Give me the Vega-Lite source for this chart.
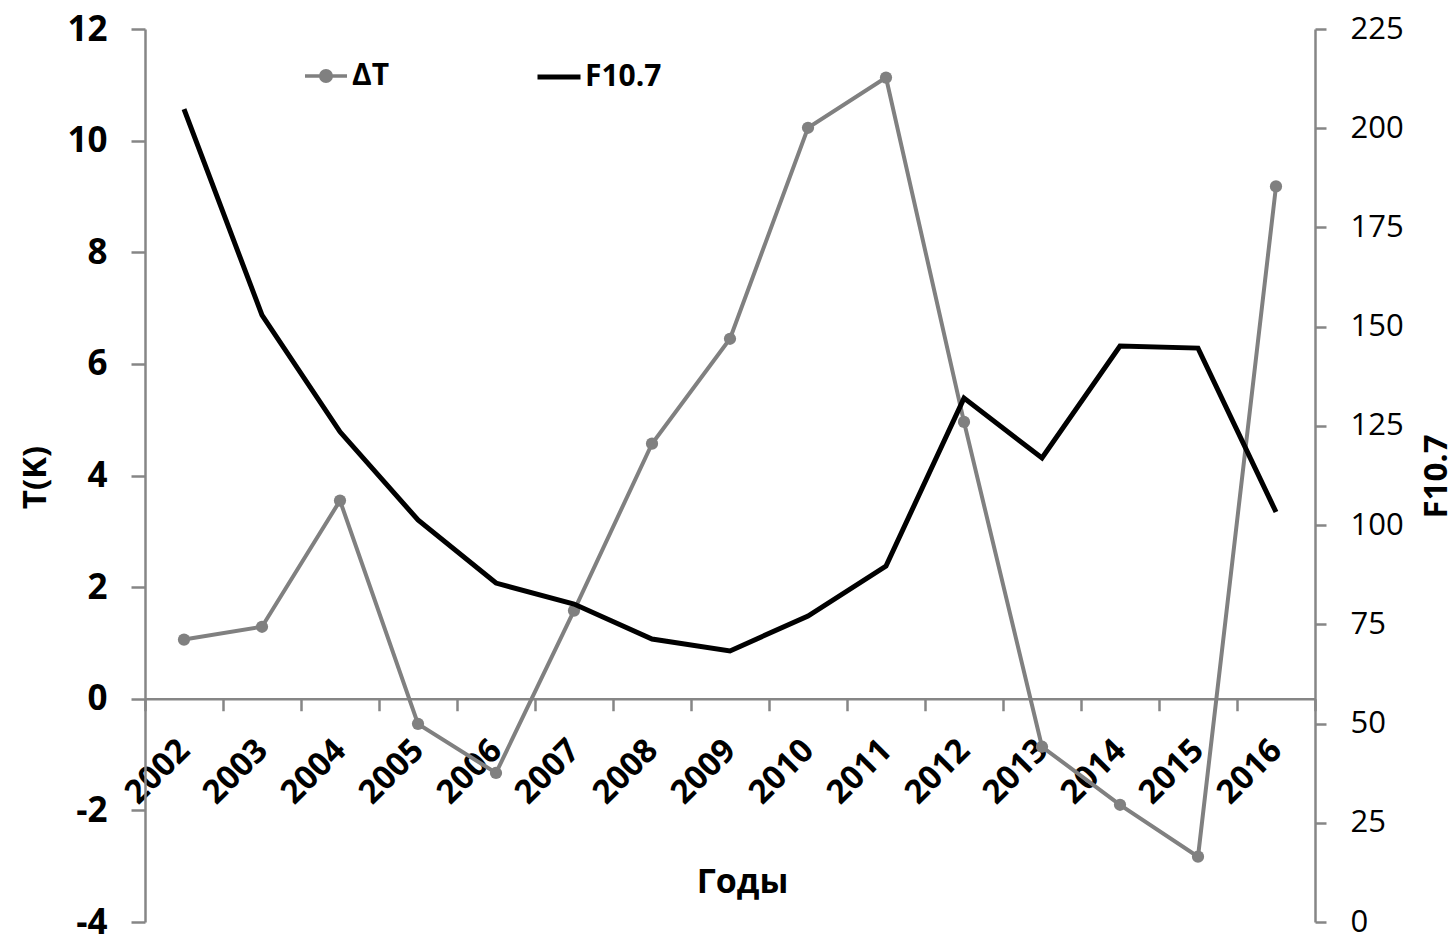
{
  "$schema": "https://vega.github.io/schema/vega-lite/v6.json",
  "width": 1170,
  "height": 893,
  "autosize": {"type": "none"},
  "padding": {"left": 145, "top": 29, "right": 140, "bottom": 18},
  "background": "white",
  "config": {
    "view": {"stroke": null},
    "font": "Open Sans",
    "axis": {
      "grid": false,
      "domainColor": "#868686",
      "tickColor": "#868686",
      "domainWidth": 2.5,
      "tickWidth": 2.5,
      "labelColor": "#000000",
      "titleColor": "#000000",
      "labelOverlap": false,
      "labelFlush": false,
      "labelBound": false
    },
    "legend": {"padding": 0, "labelColor": "#000000"}
  },
  "data": {
    "values": [
      {"year": "2002", "dT": 1.06, "F": 204.8},
      {"year": "2003", "dT": 1.29, "F": 152.9},
      {"year": "2004", "dT": 3.55, "F": 123.5},
      {"year": "2005", "dT": -0.45, "F": 101.3},
      {"year": "2006", "dT": -1.33, "F": 85.4},
      {"year": "2007", "dT": 1.58, "F": 80.1},
      {"year": "2008", "dT": 4.57, "F": 71.3},
      {"year": "2009", "dT": 6.45, "F": 68.3},
      {"year": "2010", "dT": 10.23, "F": 77.1},
      {"year": "2011", "dT": 11.13, "F": 89.7},
      {"year": "2012", "dT": 4.96, "F": 132.0},
      {"year": "2013", "dT": -0.86, "F": 116.9},
      {"year": "2014", "dT": -1.9, "F": 145.1},
      {"year": "2015", "dT": -2.83, "F": 144.6},
      {"year": "2016", "dT": 9.18, "F": 103.3}
    ]
  },
  "encoding": {
    "x": {
      "field": "year",
      "type": "ordinal",
      "scale": {"type": "band", "paddingInner": 0, "paddingOuter": 0},
      "axis": {
        "orient": "bottom",
        "offset": -223.25,
        "title": "Годы",
        "titleFontSize": 34,
        "titleFontWeight": "bold",
        "titleX": 597,
        "titleY": 184,
        "titleAlign": "center",
        "titleBaseline": "middle",
        "labelAngle": -45,
        "labelAlign": "right",
        "labelBaseline": "middle",
        "labelFontSize": 33,
        "labelFontWeight": "bold",
        "tickBand": "extent",
        "tickSize": 12,
        "labelPadding": 34
      }
    }
  },
  "layer": [
    {
      "encoding": {
        "y": {
          "field": "dT",
          "type": "quantitative",
          "scale": {"domain": [-4, 12], "nice": false, "zero": false},
          "axis": {
            "orient": "left",
            "values": [-4, -2, 0, 2, 4, 6, 8, 10, 12],
            "labelExpr": "'' + datum.value",
            "title": "T(K)",
            "labelFontSize": 35,
            "labelFontWeight": "bold",
            "tickSize": 14,
            "labelPadding": 24,
            "titleFontSize": 33,
            "titleFontWeight": "bold",
            "titleX": -110,
            "titleY": 448,
            "titleAngle": -90,
            "titleAlign": "center",
            "titleBaseline": "middle"
          }
        }
      },
      "layer": [
        {
          "mark": {"type": "line", "strokeWidth": 4},
          "encoding": {
            "color": {
              "datum": "ΔT",
              "scale": {"domain": ["ΔT"], "range": ["#808080"]},
              "legend": {
                "orient": "none",
                "legendX": 158,
                "legendY": 24,
                "title": null,
                "symbolType": "M-1,0L1,0M-0.25,0A0.25,0.25,0,1,1,0.25,0A0.25,0.25,0,1,1,-0.25,0Z",
                "symbolSize": 1764,
                "symbolStrokeWidth": 3.5,
                "symbolFillColor": "#808080",
                "labelFontSize": 30,
                "labelFontWeight": "bold",
                "labelOffset": 3
              }
            }
          }
        },
        {
          "mark": {"type": "point", "filled": true, "size": 150, "color": "#808080", "opacity": 1}
        }
      ]
    },
    {
      "mark": {"type": "line", "strokeWidth": 5},
      "encoding": {
        "y": {
          "field": "F",
          "type": "quantitative",
          "scale": {"domain": [0, 225], "nice": false},
          "axis": {
            "orient": "right",
            "values": [0, 25, 50, 75, 100, 125, 150, 175, 200, 225],
            "title": "F10.7",
            "labelFontSize": 31,
            "labelFontWeight": "normal",
            "tickSize": 11,
            "labelPadding": 24,
            "titleFontSize": 33,
            "titleFontWeight": "bold",
            "titleX": 121,
            "titleY": 447,
            "titleAngle": -90,
            "titleAlign": "center",
            "titleBaseline": "middle"
          }
        },
        "color": {
          "datum": "F10.7",
          "scale": {"domain": ["F10.7"], "range": ["#000000"]},
          "legend": {
            "orient": "none",
            "legendX": 390,
            "legendY": 24,
            "title": null,
            "symbolType": "stroke",
            "symbolSize": 1849,
            "symbolStrokeWidth": 5,
            "labelFontSize": 30,
            "labelFontWeight": "bold",
            "labelOffset": 2
          }
        }
      }
    }
  ],
  "resolve": {"scale": {"y": "independent", "color": "independent"}}
}
